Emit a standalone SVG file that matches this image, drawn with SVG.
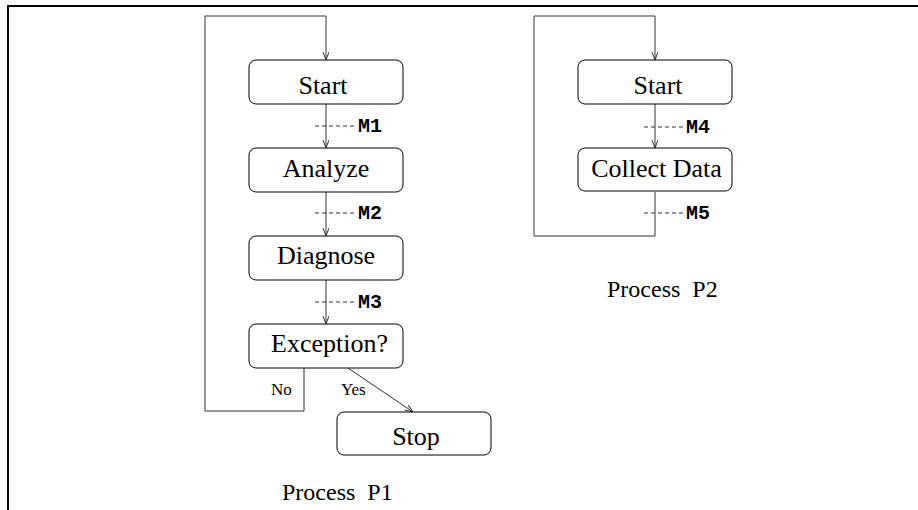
<svg xmlns="http://www.w3.org/2000/svg" width="918" height="510" viewBox="0 0 918 510">
<style>
.box{fill:#fff;stroke:#000;stroke-width:1}
.lbl{font-family:"Liberation Serif","Times New Roman",serif;font-size:26px;fill:#000;text-anchor:middle}
.small{font-family:"Liberation Serif","Times New Roman",serif;font-size:17px;fill:#000}
.title{font-family:"Liberation Serif","Times New Roman",serif;font-size:24px;fill:#000;white-space:pre}
.msg{font-family:"Liberation Mono","Courier New",monospace;font-size:20px;font-weight:bold;fill:#000}
.edge{fill:none;stroke:#333;stroke-width:1}
.dash{fill:none;stroke:#333;stroke-width:1;stroke-dasharray:4,3}
</style>
<defs>
<marker id="arr" markerUnits="userSpaceOnUse" markerWidth="10" markerHeight="8" refX="8" refY="3" orient="auto">
<path d="M0,0 L8,3 L0,6" fill="none" stroke="#333" stroke-width="1"/>
</marker>
</defs>
<rect width="918" height="510" fill="#fff"/>
<g id="frame">
<line x1="7" y1="6" x2="918" y2="6" stroke="#000" stroke-width="2"/>
<line x1="8" y1="5" x2="8" y2="510" stroke="#000" stroke-width="2"/>
</g>
<g id="connectors">
<polyline class="edge" points="304,368 304,411 205,411 205,16 326,16 326,60" marker-end="url(#arr)"/>
<line class="edge" x1="326" y1="104" x2="326" y2="148" marker-end="url(#arr)"/>
<line class="edge" x1="326" y1="192" x2="326" y2="236" marker-end="url(#arr)"/>
<line class="edge" x1="326" y1="280" x2="326" y2="324" marker-end="url(#arr)"/>
<line class="edge" x1="348" y1="368" x2="413" y2="412" marker-end="url(#arr)"/>
<polyline class="edge" points="655,192 655,236 534,236 534,16 655,16 655,60" marker-end="url(#arr)"/>
<line class="edge" x1="655" y1="104" x2="655" y2="148" marker-end="url(#arr)"/>
<text class="small" x="271" y="395">No</text>
<text class="small" x="341" y="395">Yes</text>
</g>
<g id="messages">
<line class="dash" x1="315" y1="126" x2="357" y2="126"/>
<text class="msg" x="358" y="132">M1</text>
<line class="dash" x1="315" y1="213" x2="357" y2="213"/>
<text class="msg" x="358" y="219">M2</text>
<line class="dash" x1="315" y1="302" x2="357" y2="302"/>
<text class="msg" x="358" y="308">M3</text>
<line class="dash" x1="644" y1="127" x2="686" y2="127"/>
<text class="msg" x="686" y="133">M4</text>
<line class="dash" x1="644" y1="213" x2="686" y2="213"/>
<text class="msg" x="686" y="219">M5</text>
</g>
<g id="p1-start"><rect class="box" x="249" y="60" width="154" height="44" rx="7"/><text class="lbl" x="323" y="94">Start</text></g>
<g id="p1-analyze"><rect class="box" x="249" y="148" width="154" height="44" rx="7"/><text class="lbl" x="326" y="177">Analyze</text></g>
<g id="p1-diagnose"><rect class="box" x="249" y="236" width="154" height="44" rx="7"/><text class="lbl" x="326" y="264">Diagnose</text></g>
<g id="p1-exception"><rect class="box" x="249" y="324" width="154" height="44" rx="7"/><text class="lbl" x="329.5" y="352">Exception?</text></g>
<g id="p1-stop"><rect class="box" x="337" y="412" width="154" height="43" rx="7"/><text class="lbl" x="416" y="445">Stop</text></g>
<g id="p2-start"><rect class="box" x="578" y="60" width="154" height="44" rx="7"/><text class="lbl" x="658" y="94">Start</text></g>
<g id="p2-collect"><rect class="box" x="578" y="148" width="154" height="43" rx="7"/><text class="lbl" x="656.5" y="177">Collect Data</text></g>
<g id="titles">
<text class="title" x="282" y="500">Process  P1</text>
<text class="title" x="607" y="297">Process  P2</text>
</g>
</svg>
